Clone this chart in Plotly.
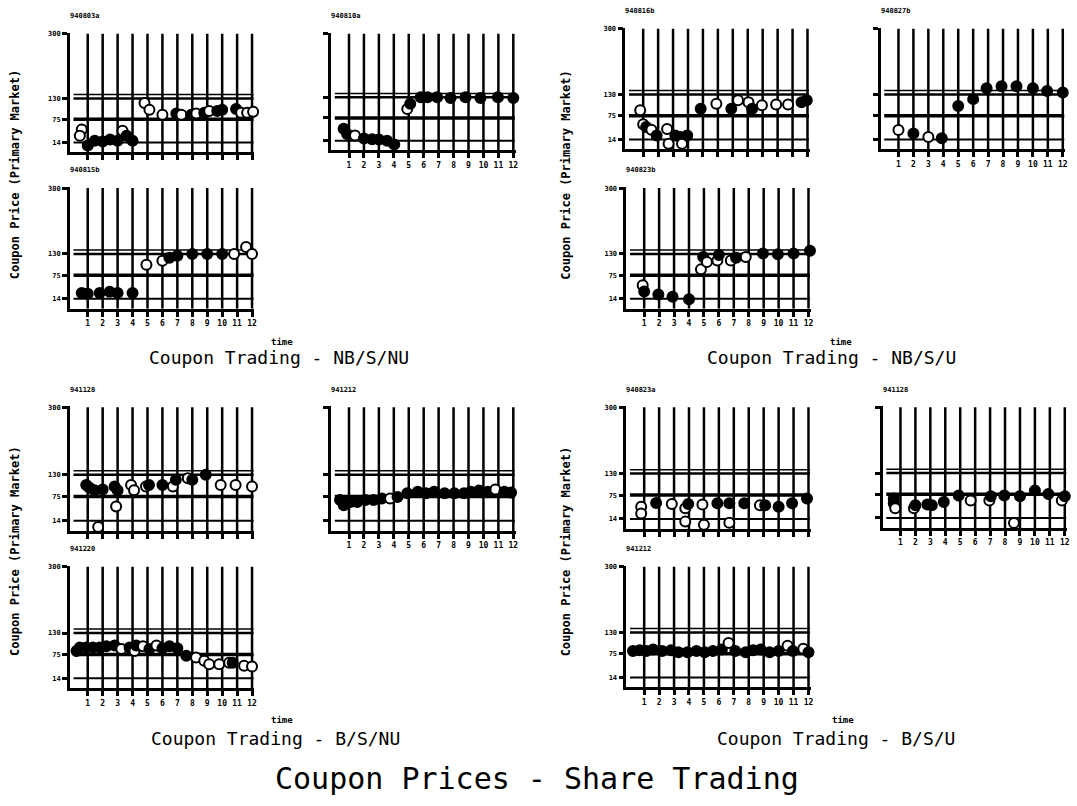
import plotly.graph_objects as go

W, H = 1077, 806

# ---------------- data ----------------
TIME_TICKS = list(range(1, 13))
PRICE_TICKS = [14, 75, 130, 300]
REF_LEVELS = [140, 130, 75, 14]

panel_names = ["940803a", "940810a", "940815b",
               "940816b", "940827b", "940823b",
               "941128", "941212", "941220",
               "940823a", "941128", "941212"]

group_titles = ["Coupon Trading - NB/S/NU", "Coupon Trading - NB/S/U",
                "Coupon Trading - B/S/NU", "Coupon Trading - B/S/U"]
x_title = "time"
y_title = "Coupon Price (Primary Market)"
main_title = "Coupon Prices - Share Trading"

# filled: 1 = solid circle, 0 = open circle
p1a_time = [0.6, 0.47, 1.0, 1.47, 2.0, 2.5, 3.0, 3.33, 3.6, 4.0, 4.8, 5.13, 6.0, 6.93, 7.27, 7.93, 8.27, 8.8, 9.13, 9.67, 10.0, 10.93, 11.27, 11.67, 12.07]
p1a_price = [48, 32, 6, 19, 17, 22, 19, 45, 32, 19, 118, 100, 87, 90, 87, 87, 90, 92, 97, 97, 100, 102, 92, 92, 95]
p1a_filled = [0, 0, 1, 1, 1, 1, 1, 0, 1, 1, 0, 0, 0, 1, 0, 1, 0, 1, 0, 1, 1, 1, 0, 0, 0]

p1b_time = [0.64, 0.87, 1.4, 2.0, 2.55, 3.0, 3.55, 4.03, 4.9, 5.1, 5.8, 6.25, 6.9, 7.8, 8.8, 9.8, 10.97, 12.0]
p1b_price = [46, 32, 28, 20, 18, 17, 14, 4, 99, 113, 130, 130, 130, 128, 130, 128, 130, 128]
p1b_filled = [1, 1, 0, 1, 1, 1, 1, 1, 0, 1, 1, 1, 1, 1, 1, 1, 1, 1]

p1c_time = [0.6, 1.0, 1.8, 2.47, 3.0, 4.0, 4.93, 6.0, 6.47, 7.0, 8.0, 9.0, 10.0, 10.8, 11.6, 12.0]
p1c_price = [29, 27, 29, 32, 29, 29, 102, 112, 120, 125, 130, 130, 130, 130, 148, 130]
p1c_filled = [1, 1, 1, 1, 1, 1, 0, 0, 1, 1, 1, 1, 1, 0, 0, 0]

p2a_time = [0.8, 1.0, 1.2, 1.55, 1.9, 2.6, 2.7, 3.15, 3.5, 3.6, 3.95, 4.85, 5.9, 6.9, 7.35, 8.05, 8.3, 8.95, 9.9, 10.7, 11.6, 11.95]
p2a_price = [89, 53, 46, 39, 24, 41, 3, 24, 20, 3, 24, 93, 106, 93, 115, 110, 93, 102, 104, 104, 110, 115]
p2a_filled = [0, 0, 1, 0, 1, 0, 0, 1, 1, 0, 1, 1, 0, 1, 0, 0, 1, 0, 0, 0, 1, 1]

p2b_time = [1.0, 2.0, 3.0, 3.9, 5.0, 6.0, 6.9, 7.9, 8.9, 10.0, 10.95, 12.0]
p2b_price = [38, 29, 20, 17, 100, 118, 146, 151, 151, 146, 139, 135]
p2b_filled = [0, 1, 0, 1, 1, 1, 1, 1, 1, 1, 1, 1]

p2c_time = [0.9, 1.0, 1.95, 2.9, 4.0, 4.8, 4.95, 5.2, 5.9, 6.0, 6.8, 7.15, 7.8, 8.95, 9.95, 11.0, 12.1]
p2c_price = [49, 33, 25, 19, 13, 90, 122, 109, 113, 127, 113, 120, 122, 131, 129, 131, 138]
p2c_filled = [0, 1, 1, 1, 1, 0, 1, 0, 0, 1, 0, 1, 0, 1, 1, 1, 1]

p3a_time = [0.9, 1.1, 1.45, 1.7, 2.0, 2.8, 2.9, 3.0, 3.9, 4.1, 4.9, 5.1, 6.0, 6.7, 6.9, 7.7, 8.0, 8.9, 9.9, 10.9, 12.0]
p3a_price = [104, 98, 91, -2, 93, 100, 50, 91, 104, 91, 100, 104, 104, 100, 117, 121, 117, 130, 104, 104, 100]
p3a_filled = [1, 1, 1, 0, 1, 1, 0, 1, 0, 0, 0, 1, 1, 0, 1, 0, 1, 1, 0, 0, 0]

p3b_time = [0.4, 0.65, 1.1, 1.55, 2.1, 2.65, 3.2, 3.75, 4.25, 4.9, 5.6, 6.15, 6.7, 7.4, 8.05, 8.7, 9.15, 9.7, 10.3, 10.8, 11.4, 11.85]
p3b_price = [66, 53, 61, 61, 66, 66, 70, 70, 74, 83, 87, 83, 87, 83, 83, 83, 87, 90, 87, 93, 87, 85]
p3b_filled = [1, 1, 1, 1, 1, 1, 1, 0, 1, 1, 1, 1, 1, 1, 1, 1, 1, 1, 1, 0, 1, 1]

p3c_time = [0.25, 0.47, 0.9, 1.35, 1.8, 2.25, 2.8, 3.25, 3.8, 4.13, 4.25, 4.7, 5.13, 5.6, 6.0, 6.47, 7.0, 7.6, 8.25, 8.8, 9.13, 9.8, 10.47, 10.7, 11.47, 12.0]
p3c_price = [84, 93, 93, 93, 93, 96, 98, 89, 93, 84, 98, 96, 89, 98, 91, 96, 91, 72, 67, 59, 50, 50, 54, 54, 46, 44]
p3c_filled = [1, 1, 1, 1, 1, 1, 1, 0, 1, 0, 1, 0, 1, 0, 1, 1, 1, 1, 0, 0, 0, 0, 0, 1, 0, 0]

p4a_time = [0.8, 0.8, 1.8, 2.85, 3.75, 3.75, 3.95, 4.9, 5.0, 5.9, 6.7, 6.7, 7.7, 8.75, 9.1, 10.0, 10.9, 11.9]
p4a_price = [45, 28, 55, 52, 41, 7, 52, 51, -1, 54, 54, 4, 54, 49, 49, 45, 54, 66]
p4a_filled = [0, 0, 1, 0, 0, 0, 1, 0, 0, 1, 1, 0, 1, 0, 1, 1, 1, 1]

p4b_time = [0.55, 0.55, 0.65, 1.9, 2.0, 2.8, 3.1, 3.9, 4.9, 5.7, 6.95, 7.05, 7.95, 8.6, 9.0, 10.0, 10.9, 11.8, 12.0]
p4b_price = [64, 52, 39, 39, 47, 49, 47, 55, 72, 59, 59, 70, 72, 1, 70, 85, 76, 59, 70]
p4b_filled = [1, 1, 0, 0, 1, 1, 1, 1, 1, 0, 0, 1, 1, 0, 1, 1, 1, 0, 1]

p4c_time = [0.25, 0.7, 1.15, 1.6, 2.2, 2.8, 3.3, 3.9, 4.5, 5.05, 5.6, 6.2, 6.65, 7.1, 7.8, 8.3, 8.8, 9.4, 10.0, 10.6, 10.95, 11.65, 12.0, 12.3]
p4c_price = [82, 84, 82, 86, 82, 84, 79, 79, 82, 79, 82, 86, 103, 82, 79, 84, 86, 79, 82, 96, 82, 88, 79, 67]
p4c_filled = [1, 1, 1, 1, 1, 1, 1, 1, 1, 1, 1, 1, 0, 1, 1, 1, 1, 1, 1, 0, 1, 0, 1, 0]

panel_data = [
    (p1a_time, p1a_price, p1a_filled), (p1b_time, p1b_price, p1b_filled), (p1c_time, p1c_price, p1c_filled),
    (p2a_time, p2a_price, p2a_filled), (p2b_time, p2b_price, p2b_filled), (p2c_time, p2c_price, p2c_filled),
    (p3a_time, p3a_price, p3a_filled), (p3b_time, p3b_price, p3b_filled), (p3c_time, p3c_price, p3c_filled),
    (p4a_time, p4a_price, p4a_filled), (p4b_time, p4b_price, p4b_filled), (p4c_time, p4c_price, p4c_filled),
]

# ---------------- layout (pixel positions) ----------------
# (left px of y axis, top px, bottom px, show y labels, show x labels)
panel_pos = [
    (70, 30, 150, True, False), (332, 30, 148, False, True), (70, 185, 307, True, True),
    (627, 25, 147, True, False), (883, 25, 147, False, True), (628, 185, 307, True, True),
    (70, 405, 530, True, False), (332, 405, 530, False, True), (70, 565, 688, True, True),
    (628, 405, 528, True, False), (885, 405, 527, False, True), (628, 565, 687, True, True),
]
PW = 185
XR = [-0.2, 12.15]
YR = [-12, 302]

FONT_MONO = "DejaVu Sans Mono"

fig = go.Figure()
shapes = []
annotations = []

for i, ((tt, pp, ff), (x0, top, bot, sy, sx)) in enumerate(zip(panel_data, panel_pos)):
    n = i + 1
    xa = "x" if n == 1 else f"x{n}"
    ya = "y" if n == 1 else f"y{n}"
    xkey = "xaxis" if n == 1 else f"xaxis{n}"
    ykey = "yaxis" if n == 1 else f"yaxis{n}"

    fig.layout[xkey] = dict(
        domain=[x0 / W, (x0 + PW) / W], range=XR, anchor=ya,
        showline=True, linecolor="black", linewidth=2.5, mirror=False,
        showgrid=False, zeroline=False, ticks="outside", ticklen=5, tickwidth=2.5,
        tickcolor="black", tickmode="array", tickvals=TIME_TICKS,
        ticktext=[str(t) for t in TIME_TICKS], showticklabels=sx,
        tickfont=dict(family=FONT_MONO, size=8, color="black", weight="bold"),
        fixedrange=True,
    )
    fig.layout[ykey] = dict(
        domain=[1 - bot / H, 1 - top / H], range=YR, anchor=xa,
        showline=True, linecolor="black", linewidth=2.5,
        showgrid=False, zeroline=False, ticks="outside", ticklen=5, tickwidth=2.5,
        tickcolor="black", tickmode="array", tickvals=PRICE_TICKS,
        ticktext=[str(v) for v in PRICE_TICKS], showticklabels=sy,
        tickfont=dict(family=FONT_MONO, size=7, color="black", weight="bold"),
        fixedrange=True,
    )

    # vertical reference lines at each time
    for t in TIME_TICKS:
        shapes.append(dict(type="line", xref=xa, yref=ya, x0=t, x1=t, y0=YR[0], y1=300,
                           line=dict(color="black", width=2.5), layer="below"))
    # horizontal reference levels
    for lev, lw in zip(REF_LEVELS, [1.5, 2.5, 3.5, 2]):
        shapes.append(dict(type="line", xref=xa, yref=ya, x0=0.05, x1=12.1, y0=lev, y1=lev,
                           line=dict(color="black", width=lw), layer="below"))

    fig.add_trace(go.Scatter(
        x=tt, y=pp, mode="markers", xaxis=xa, yaxis=ya, showlegend=False,
        marker=dict(size=10, color=["black" if f else "white" for f in ff],
                    line=dict(color="black", width=2)),
        cliponaxis=False,
    ))

    annotations.append(dict(text=panel_names[i], x=(x0 - 2) / W, y=1 - (top - 17) / H,
                            xref="paper", yref="paper", xanchor="left", yanchor="middle",
                            showarrow=False,
                            font=dict(family=FONT_MONO, size=7, color="black", weight="bold")))

# group labels
group_ylab = [(15, 172), (568, 172), (15, 550), (568, 550)]
group_time = [(283, 340), (843, 340), (283, 720), (845, 720)]
group_tit = [(280, 356), (834, 356), (276, 738), (838, 738)]
for g in range(4):
    yx, yy = group_ylab[g]
    annotations.append(dict(text=y_title, x=yx / W, y=1 - yy / H, xref="paper", yref="paper",
                            textangle=-90, showarrow=False, xanchor="center", yanchor="middle",
                            font=dict(family=FONT_MONO, size=12, color="black", weight="bold")))
    tx, ty = group_time[g]
    annotations.append(dict(text=x_title, x=tx / W, y=1 - ty / H, xref="paper", yref="paper",
                            showarrow=False, xanchor="center", yanchor="middle",
                            font=dict(family=FONT_MONO, size=9, color="black", weight="bold")))
    gx, gy = group_tit[g]
    annotations.append(dict(text=group_titles[g], x=gx / W, y=1 - gy / H, xref="paper", yref="paper",
                            showarrow=False, xanchor="center", yanchor="middle",
                            font=dict(family=FONT_MONO, size=18, color="black")))

annotations.append(dict(text=main_title, x=539 / W, y=1 - 778 / H, xref="paper", yref="paper",
                        showarrow=False, xanchor="center", yanchor="middle",
                        font=dict(family=FONT_MONO, size=30, color="black")))

fig.update_layout(
    width=W, height=H, margin=dict(l=0, r=0, t=0, b=0),
    paper_bgcolor="white", plot_bgcolor="white",
    shapes=shapes, annotations=annotations, showlegend=False,
)

fig.write_html("out.html", config={"displayModeBar": False},
               post_script="document.body.style.margin='0';document.body.style.overflow='hidden';")
